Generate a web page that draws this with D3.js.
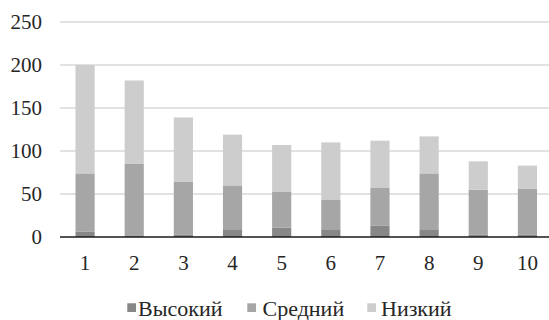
<!DOCTYPE html>
<html><head><meta charset="utf-8">
<script src="https://cdn.jsdelivr.net/npm/d3@7"></script>
<style>body{margin:0;background:#fff}svg{display:block}
svg text{font-family:"Liberation Serif","Times New Roman",Tinos,"DejaVu Serif",serif;}</style>
</head><body>
<svg id="c" width="549" height="320"></svg>
<script>
const categories = ["1","2","3","4","5","6","7","8","9","10"];
const seriesNames = ["Высокий","Средний","Низкий"];
const high = [6, 2, 3, 9, 11, 9, 13, 9, 3, 3];
const mid  = [68, 83, 61, 51, 42, 34, 44, 65, 52, 53];
const low  = [126, 97, 75, 59, 54, 67, 55, 43, 33, 27];
const yTicks = [0, 50, 100, 150, 200, 250];
const colors = ["#878787", "#a6a6a6", "#cdcdcd"];

const rows = categories.map((c,i)=>({cat:c, "Высокий":high[i], "Средний":mid[i], "Низкий":low[i]}));
const stack = d3.stack().keys(seriesNames)(rows);

const svg = d3.select("#c");
const x = d3.scaleBand().domain(categories).range([60.5, 552]).paddingInner(0.61).paddingOuter(0.305);
const y = d3.scaleLinear().domain([0,250]).range([237,22]);

svg.append("g").selectAll("line").data(yTicks.filter(t=>t>0)).join("line")
  .attr("x1",60).attr("x2",549).attr("y1",d=>y(d)).attr("y2",d=>y(d))
  .attr("stroke","#d9d9d9").attr("stroke-width",1.3);

svg.append("g").selectAll("text").data(yTicks).join("text")
  .attr("x",42).attr("y",d=>y(d)).attr("dy","0.34em").attr("text-anchor","end")
  .attr("font-size",21).attr("fill","#262626").text(d=>d);

svg.append("g").selectAll("g").data(stack).join("g").attr("fill",(d,i)=>colors[i])
  .selectAll("rect").data(d=>d).join("rect")
  .attr("x",d=>x(d.data.cat)).attr("width",x.bandwidth())
  .attr("y",d=>y(d[1])).attr("height",d=>y(d[0])-y(d[1]));

svg.append("line").attr("x1",60).attr("x2",549).attr("y1",237).attr("y2",237)
  .attr("stroke","#1a1a1a").attr("stroke-width",1.5);

svg.append("g").selectAll("text").data(categories).join("text")
  .attr("x",d=>x(d)+x.bandwidth()/2).attr("y",270).attr("text-anchor","middle")
  .attr("font-size",21).attr("fill","#262626").text(d=>d);

const legMarkX = [127.3, 247.3, 367.3];
const legTextX = [138, 262.5, 381];
const lg = svg.append("g").selectAll("g").data(seriesNames).join("g");
lg.append("rect").attr("x",(d,i)=>legMarkX[i]).attr("y",303.3).attr("width",8.7).attr("height",8.7)
  .attr("fill",(d,i)=>colors[i]);
lg.append("text").attr("x",(d,i)=>legTextX[i]).attr("y",316).attr("font-size",22)
  .attr("fill","#262626").text(d=>d);
</script>
</body></html>
